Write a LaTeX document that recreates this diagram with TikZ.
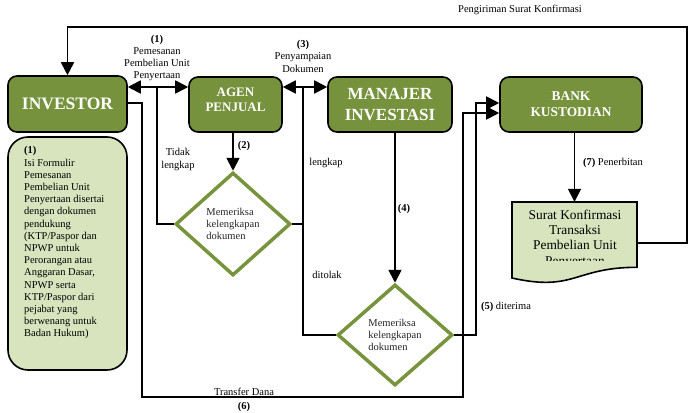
\documentclass[tikz,border=0pt]{standalone}
\usepackage{fontspec}
\setmainfont{Liberation Serif}
\usetikzlibrary{arrows.meta,shapes.geometric}
\definecolor{dkgreen}{HTML}{76923C}
\definecolor{ltgreen}{HTML}{D7E4BD}
\definecolor{dmgreen}{HTML}{77933C}
\def\docpath{(512,202) -- (637,202) -- (637,267.3) .. controls (574.5,267.3) and (574.5,292.1) .. (512,278) -- cycle}
\begin{document}
\begin{tikzpicture}[x=1pt,y=-1pt,
  box/.style={draw=black, line width=1.6pt, fill=dkgreen, rounded corners=9pt, inner sep=0pt, text=white, align=center},
  boxtxt/.style={text=white, align=center, inner sep=0pt},
  lbl/.style={font=\fontsize{10.5}{12.2}\selectfont, align=center, inner sep=0pt},
  conn/.style={line width=1.8pt},
  arr/.style={conn, -{Triangle[length=13pt,width=13pt]}},
  darr/.style={conn, {Triangle[length=13pt,width=13pt]}-{Triangle[length=13pt,width=13pt]}},
  chk/.style={diamond, draw=dmgreen, line width=3.5pt, fill=white, inner sep=0pt,
    minimum width=115pt, minimum height=103pt, align=left, text=black!85,
    font=\fontsize{10.5}{12.2}\selectfont}
]
\useasboundingbox (0,0) rectangle (690,412);

% boxes
\node[box, minimum width=119, minimum height=56, font=\bfseries\fontsize{17.5}{20}\selectfont] (inv) at (67.5,104) {INVESTOR};
\node[draw=black, line width=1.6pt, fill=ltgreen, rounded corners=20pt, minimum width=119, minimum height=233, inner sep=0pt] (note) at (67.5,253.5) {};
\node[anchor=north west, align=left, inner sep=0pt, font=\fontsize{10.5}{12.2}\selectfont] (notetext) at (24,146.5)
 {\textbf{(1)}\\Isi Formulir\\Pemesanan\\Pembelian Unit\\Penyertaan disertai\\dengan dokumen\\pendukung\\(KTP/Paspor dan\\NPWP untuk\\Perorangan atau\\Anggaran Dasar,\\NPWP serta\\KTP/Paspor dari\\pejabat yang\\berwenang untuk\\Badan Hukum)};

\node[box, minimum width=93, minimum height=55] (agen) at (235.5,104.5) {};
\node[boxtxt, font=\bfseries\fontsize{13}{15}\selectfont] (agentext) at (235.5,99.5) {AGEN\\PENJUAL};
\node[box, minimum width=124, minimum height=55, font=\bfseries\fontsize{17}{21}\selectfont] (mi) at (390,104.5) {MANAJER\\INVESTASI};
\node[box, minimum width=142, minimum height=55, font=\bfseries\fontsize{13.4}{16}\selectfont] (bank) at (571,104.5) {BANK\\KUSTODIAN};

% diamonds
\node[chk] (d1) at (233,224) {Memeriksa\\kelengkapan\\dokumen};
\node[chk, minimum height=101pt] (d2) at (395,335) {Memeriksa\\kelengkapan\\dokumen};

% document
\node[inner sep=0pt, minimum width=125, minimum height=81.4] (doc) at (574.5,242.7) {};
\fill[ltgreen] \docpath;
\begin{scope}
  \clip (512,202) rectangle (637,260.5);
  \node[anchor=north, align=center, inner sep=0pt, font=\fontsize{13.4}{15.3}\selectfont] (doctext) at (575,209.5)
   {Surat Konfirmasi\\Transaksi\\Pembelian Unit\\Penyertaan};
\end{scope}
\draw[line width=1.6pt] \docpath;

% junctions
\coordinate (j1) at (157,87);
\coordinate (j3) at (303,87);

% connectors
\draw[arr] (doc.east) -- (687,242.7) -- (687,27) -| (inv.north);
\draw[darr] (inv.east |- j1) -- (agen.west |- j1);
\draw[darr] (agen.east |- j3) -- (mi.west |- j3);
\draw[conn] (d1.west) -| (j1);
\draw[conn] (d1.east) -- (j3 |- d1.east);
\draw[conn] (j3) |- (d2.west);
\draw[arr] (agen.south -| d1.north) -- (d1.north);
\draw[arr] (mi.south -| d2.north) -- (d2.north);
\draw[arr] (bank.south -| doc.north) -- (doc.north);
\draw[arr] (d2.east) -| (476,103) -- (bank.west |- 0,103);
\draw[arr] (inv.east |- 0,103) -| (142,397) -| (463,113) -- (bank.west |- 0,113);

% labels
\node[lbl] (t0) at (520,10) {Pengiriman Surat Konfirmasi};
\node[lbl, anchor=north, font=\fontsize{10.5}{11.7}\selectfont] (t1) at (157,35.5) {\textbf{(1)}\\Pemesanan\\Pembelian Unit\\Penyertaan};
\node[lbl, anchor=north, font=\fontsize{10.5}{12.5}\selectfont] (t3) at (303,40) {\textbf{(3)}\\Penyampaian\\Dokumen};
\node[lbl] (t2) at (244,146) {\textbf{(2)}};
\node[lbl, font=\fontsize{10.5}{12.5}\selectfont] (ttl) at (178,159.5) {Tidak\\lengkap};
\node[lbl] (tl) at (326,163) {lengkap};
\node[lbl] (tdt) at (327,275) {ditolak};
\node[lbl] (t4) at (404,209) {\textbf{(4)}};
\node[lbl] (t7) at (613,163) {\textbf{(7)} Penerbitan};
\node[lbl] (t5) at (506,307) {\textbf{(5)} diterima};
\node[lbl] (t6a) at (244,392) {Transfer Dana};
\node[lbl] (t6) at (244,407) {\textbf{(6)}};
\end{tikzpicture}
\end{document}
